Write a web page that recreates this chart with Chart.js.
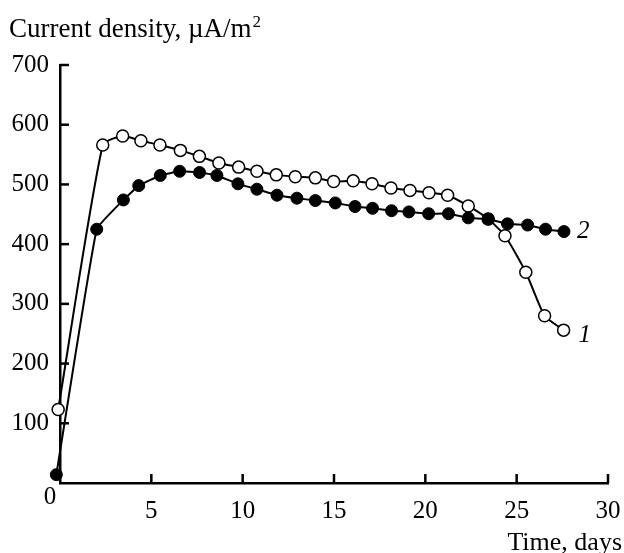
<!DOCTYPE html>
<html>
<head>
<meta charset="utf-8">
<script src="https://cdn.jsdelivr.net/npm/chart.js@4"></script>
<style>
  body { margin: 0; background: #fff; }
  #wrap { width: 624px; height: 553px; }
</style>
</head>
<body>
<div id="wrap"><canvas id="chart" width="624" height="553"></canvas></div>
<script>
// curve 1 (open circles)
const days1 = [-0.1, 2.34, 3.43, 4.43, 5.47, 6.59, 7.63, 8.70, 9.78, 10.78, 11.84, 12.88, 13.98, 14.98, 16.05, 17.08, 18.12, 19.16, 20.2, 21.22, 22.35, 23.44, 24.36, 25.5, 26.53, 27.57];
const density1 = [123, 566, 581, 573, 566, 557, 547, 536, 529, 522, 516, 513, 511, 505, 506, 501, 494, 490, 486, 482, 464, 442, 414, 353, 280, 256];

// curve 2 (filled circles)
const days2 = [-0.2, 2.01, 3.47, 4.31, 5.49, 6.55, 7.64, 8.59, 9.74, 10.78, 11.88, 12.97, 13.98, 15.07, 16.15, 17.11, 18.15, 19.1, 20.18, 21.27, 22.35, 23.44, 24.5, 25.6, 26.58, 27.59];
const density2 = [14, 425, 474, 498, 515, 522, 520, 515, 501, 492, 482, 477, 473, 469, 463, 460, 456, 454, 451, 451, 444, 442, 434, 432, 425, 421];

const xTicks = [0, 5, 10, 15, 20, 25, 30];
const yTicks = [0, 100, 200, 300, 400, 500, 600, 700];
const curveLabels = ['1', '2'];

const serif = '"Liberation Serif", "DejaVu Serif", serif';

function toPoints(xs, ys) {
  return xs.map((x, i) => ({ x: x, y: ys[i] }));
}

// texte et graduations vers l'intérieur
const extras = {
  id: 'extras',
  afterDraw(chart) {
    const ctx = chart.ctx;
    const sx = chart.scales.x;
    const sy = chart.scales.y;
    ctx.save();
    ctx.strokeStyle = '#000';
    ctx.lineWidth = 2.5;
    sx.ticks.forEach(t => {
      if (t.value === 0) return;
      const px = sx.getPixelForValue(t.value);
      ctx.beginPath();
      ctx.moveTo(px, sy.bottom);
      ctx.lineTo(px, sy.bottom - 9);
      ctx.stroke();
    });
    sy.ticks.forEach(t => {
      if (t.value === 0) return;
      const py = sy.getPixelForValue(t.value);
      ctx.beginPath();
      ctx.moveTo(sx.left, py);
      ctx.lineTo(sx.left + 9, py);
      ctx.stroke();
    });

    ctx.fillStyle = '#000';
    ctx.textBaseline = 'alphabetic';
    ctx.font = '27px ' + serif;
    ctx.textAlign = 'left';
    const yTitle = 'Current density, \u00b5A/m';
    ctx.fillText(yTitle, 9, 37);
    const w = ctx.measureText(yTitle).width;
    ctx.font = '17px ' + serif;
    ctx.fillText('2', 9 + w + 1, 27);

    ctx.font = '26px ' + serif;
    ctx.textAlign = 'right';
    ctx.fillText('Time, days', 622, 550);

    ctx.font = '25px ' + serif;
    ctx.textAlign = 'center';
    ctx.fillText('0', sx.left - 10, sy.bottom + 21);

    // numéros des courbes, à côté du dernier point
    ctx.font = 'italic 25px ' + serif;
    ctx.textAlign = 'left';
    const last1 = { x: sx.getPixelForValue(days1[days1.length - 1]), y: sy.getPixelForValue(density1[density1.length - 1]) };
    const last2 = { x: sx.getPixelForValue(days2[days2.length - 1]), y: sy.getPixelForValue(density2[density2.length - 1]) };
    ctx.fillText(curveLabels[0], last1.x + 15, last1.y + 12);
    ctx.fillText(curveLabels[1], last2.x + 13, last2.y + 6);
    ctx.restore();
  }
};

const chart = new Chart(document.getElementById('chart').getContext('2d'), {
  type: 'line',
  data: {
    datasets: [
      {
        label: '1',
        data: toPoints(days1, density1),
        borderColor: '#000',
        borderWidth: 2,
        pointStyle: 'circle',
        pointRadius: 6,
        pointBorderWidth: 1.5,
        pointBackgroundColor: '#fff',
        pointBorderColor: '#000',
        tension: 0.2,
        clip: false,
        order: 1
      },
      {
        label: '2',
        data: toPoints(days2, density2),
        borderColor: '#000',
        borderWidth: 2,
        pointStyle: 'circle',
        pointRadius: 6,
        pointBorderWidth: 1,
        pointBackgroundColor: '#000',
        pointBorderColor: '#000',
        tension: 0.1,
        clip: false,
        order: 0
      }
    ]
  },
  options: {
    responsive: false,
    animation: false,
    layout: { padding: { top: 65, right: 16, bottom: 0, left: 0 } },
    plugins: { legend: { display: false }, tooltip: { enabled: false } },
    scales: {
      x: {
        type: 'linear',
        min: 0,
        max: 30,
        afterBuildTicks: s => { s.ticks = xTicks.map(v => ({ value: v })); },
        afterFit: s => { s.height = 70; s.paddingRight = 0; s.paddingLeft = 0; },
        grid: { display: false, drawTicks: false },
        border: { color: '#000', width: 2.5 },
        ticks: {
          color: '#000',
          padding: 13,
          font: { family: serif, size: 25 },
          maxRotation: 0,
          callback: v => (v === 0 ? '' : String(v))
        }
      },
      y: {
        type: 'linear',
        min: 0,
        max: 700,
        afterBuildTicks: s => { s.ticks = yTicks.map(v => ({ value: v })); },
        afterFit: s => { s.width = 60; },
        grid: { display: false, drawTicks: false },
        border: { color: '#000', width: 2.5 },
        ticks: {
          color: '#000',
          padding: 11,
          font: { family: serif, size: 25 },
          callback: v => (v === 0 ? '' : String(v))
        }
      }
    }
  },
  plugins: [extras]
});
</script>
</body>
</html>
